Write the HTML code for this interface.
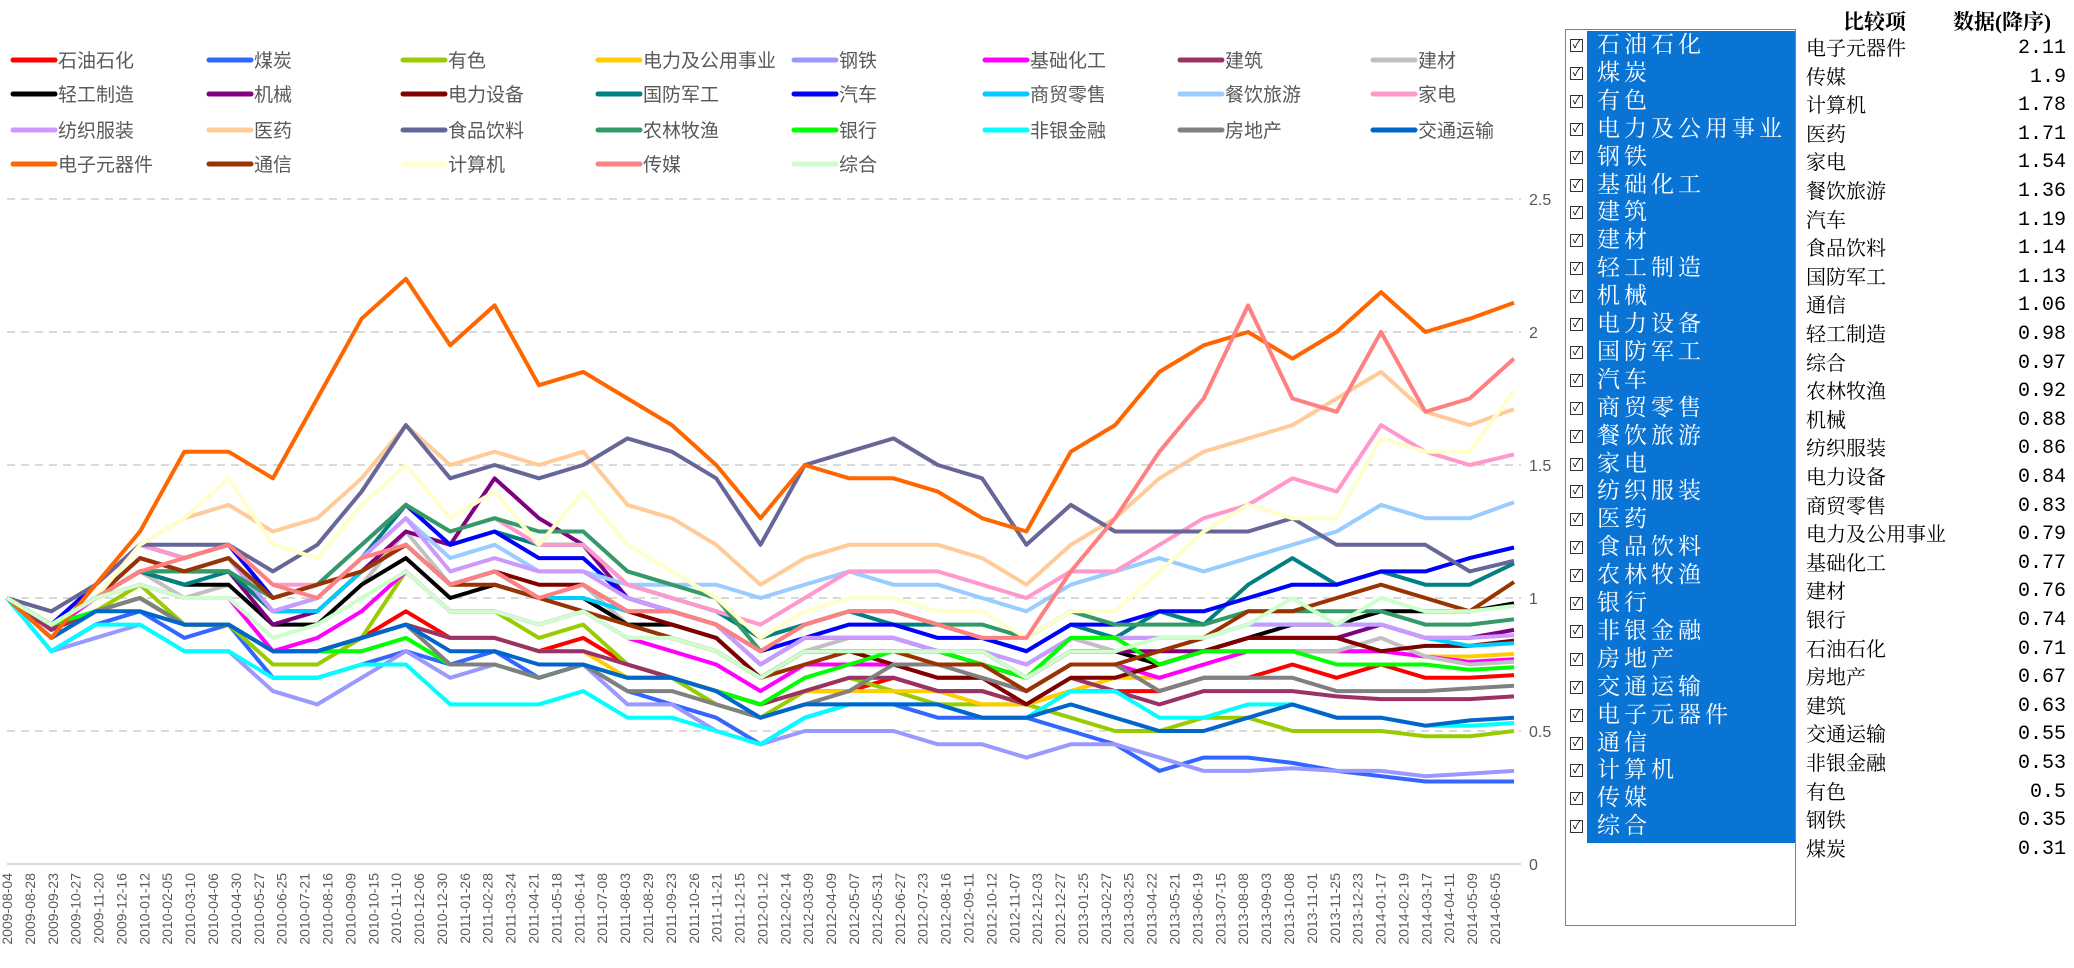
<!DOCTYPE html>
<html><head><meta charset="utf-8">
<style>
html,body{margin:0;padding:0;background:#fff;}
body{width:2074px;height:968px;position:relative;overflow:hidden;font-family:"Liberation Sans","Noto Sans CJK SC",sans-serif;}
#chart{position:absolute;left:0;top:0;}
#panel{position:absolute;left:1565px;top:29px;width:231px;height:897px;border:1px solid #808080;box-sizing:border-box;background:#fff;}
#blue{position:absolute;left:21px;top:1px;width:208px;height:812px;background:#0a74d4;}
.item{position:absolute;left:0;height:28px;width:229px;}
.cb{position:absolute;left:4px;top:8px;width:11px;height:11px;border:1px solid #333;background:#fff;font-size:11px;line-height:11px;text-align:center;color:#000;}
.lbl{position:absolute;left:31px;top:0;font-size:23px;line-height:28px;color:#fff;letter-spacing:4px;font-family:"Liberation Serif","Noto Serif CJK SC",serif;white-space:nowrap;}
#table{position:absolute;left:1800px;top:0;width:274px;height:968px;font-family:"Liberation Serif","Noto Serif CJK SC",serif;}
.th{position:absolute;top:6px;font-size:21px;font-weight:bold;color:#000;}
.row{position:absolute;left:6px;width:260px;height:28px;font-size:20px;line-height:28px;color:#000;}
.row .v{position:absolute;right:0;top:0;font-family:"Liberation Mono",monospace;}
</style></head>
<body>
<svg id="chart" width="1560" height="968" xmlns="http://www.w3.org/2000/svg"></svg>
<div id="panel"><div id="blue"></div></div>
<div id="table">
<div class="th" style="left:43px">比较项</div>
<div class="th" style="left:153px">数据(降序)</div>
</div>
<script>
const names=["石油石化","煤炭","有色","电力及公用事业","钢铁","基础化工","建筑","建材","轻工制造","机械","电力设备","国防军工","汽车","商贸零售","餐饮旅游","家电","纺织服装","医药","食品饮料","农林牧渔","银行","非银金融","房地产","交通运输","电子元器件","通信","计算机","传媒","综合"];
const colors=["#ff0000","#3366ff","#99cc00","#ffcc00","#9999ff","#ff00ff","#993366","#c0c0c0","#000000","#800080","#800000","#008080","#0000ff","#00ccff","#99ccff","#ff99cc","#cc99ff","#ffcc99","#666699","#339966","#00ff00","#00ffff","#808080","#0066cc","#ff6600","#993300","#ffffcc","#ff8080","#ccffcc"];
const dates=["2009-08-04","2009-08-28","2009-09-23","2009-10-27","2009-11-20","2009-12-16","2010-01-12","2010-02-05","2010-03-10","2010-04-06","2010-04-30","2010-05-27","2010-06-25","2010-07-21","2010-08-16","2010-09-09","2010-10-15","2010-11-10","2010-12-06","2010-12-30","2011-01-26","2011-02-28","2011-03-24","2011-04-21","2011-05-18","2011-06-14","2011-07-08","2011-08-03","2011-08-29","2011-09-23","2011-10-26","2011-11-21","2011-12-15","2012-01-12","2012-02-14","2012-03-09","2012-04-09","2012-05-07","2012-05-31","2012-06-27","2012-07-23","2012-08-16","2012-09-11","2012-10-12","2012-11-07","2012-12-03","2012-12-27","2013-01-25","2013-02-27","2013-03-25","2013-04-22","2013-05-21","2013-06-19","2013-07-15","2013-08-08","2013-09-03","2013-10-08","2013-11-01","2013-11-25","2013-12-23","2014-01-17","2014-02-19","2014-03-17","2014-04-11","2014-05-09","2014-06-05"];
const yTicks=[0,0.5,1,1.5,2,2.5];
const s_shiyou=[1.0,0.85,0.95,1.0,0.9,0.9,0.8,0.8,0.85,0.95,0.85,0.85,0.8,0.85,0.75,0.7,0.65,0.6,0.65,0.65,0.7,0.65,0.65,0.6,0.65,0.65,0.65,0.7,0.7,0.75,0.7,0.75,0.7,0.7,0.71];
const s_meitan=[1.0,0.8,0.9,0.95,0.85,0.9,0.7,0.7,0.75,0.8,0.75,0.8,0.7,0.75,0.65,0.6,0.55,0.45,0.55,0.6,0.6,0.55,0.55,0.55,0.5,0.45,0.35,0.4,0.4,0.38,0.35,0.33,0.31,0.31,0.31];
const s_youse=[1.0,0.85,0.95,1.05,0.9,0.9,0.75,0.75,0.85,1.1,0.95,0.95,0.85,0.9,0.75,0.7,0.6,0.55,0.65,0.7,0.65,0.6,0.6,0.6,0.55,0.5,0.5,0.55,0.55,0.5,0.5,0.5,0.48,0.48,0.5];
const s_dianli=[1.0,0.88,0.95,1.0,0.9,0.9,0.8,0.8,0.85,0.9,0.85,0.85,0.8,0.8,0.7,0.7,0.65,0.6,0.65,0.65,0.65,0.65,0.6,0.6,0.65,0.7,0.7,0.75,0.8,0.8,0.8,0.8,0.78,0.78,0.79];
const s_gangtie=[1.0,0.8,0.85,0.9,0.8,0.8,0.65,0.6,0.7,0.8,0.7,0.75,0.7,0.75,0.6,0.6,0.5,0.45,0.5,0.5,0.5,0.45,0.45,0.4,0.45,0.45,0.4,0.35,0.35,0.36,0.35,0.35,0.33,0.34,0.35];
const s_huagong=[1.0,0.88,1.0,1.05,1.0,1.0,0.8,0.85,0.95,1.1,0.95,0.95,0.9,0.95,0.85,0.8,0.75,0.65,0.75,0.75,0.75,0.7,0.7,0.65,0.75,0.75,0.7,0.75,0.8,0.8,0.8,0.8,0.78,0.76,0.77];
const s_jianzhu=[1.0,0.88,0.95,1.0,0.9,0.9,0.8,0.8,0.85,0.9,0.85,0.85,0.8,0.8,0.75,0.7,0.65,0.6,0.65,0.7,0.7,0.65,0.65,0.6,0.7,0.65,0.6,0.65,0.65,0.65,0.63,0.62,0.62,0.62,0.63];
const s_jiancai=[1.0,0.9,1.0,1.1,1.0,1.05,0.9,0.9,1.05,1.25,1.05,1.1,1.0,1.05,0.9,0.85,0.8,0.7,0.8,0.85,0.85,0.8,0.75,0.7,0.85,0.8,0.75,0.8,0.8,0.8,0.8,0.85,0.78,0.75,0.76];
const s_qinggong=[1.0,0.9,1.0,1.1,1.05,1.05,0.9,0.9,1.05,1.15,1.0,1.05,1.0,1.0,0.9,0.9,0.85,0.7,0.8,0.8,0.8,0.8,0.75,0.7,0.8,0.8,0.75,0.8,0.85,0.9,0.9,0.95,0.95,0.95,0.98];
const s_jixie=[1.0,0.9,1.0,1.15,1.1,1.1,0.9,0.95,1.1,1.25,1.2,1.45,1.3,1.2,1.0,0.95,0.9,0.75,0.85,0.85,0.85,0.8,0.8,0.7,0.8,0.8,0.8,0.8,0.85,0.85,0.85,0.9,0.85,0.85,0.88];
const s_dianshe=[1.0,0.9,1.0,1.1,1.1,1.1,0.95,0.95,1.1,1.2,1.05,1.1,1.05,1.05,0.95,0.9,0.85,0.7,0.8,0.8,0.75,0.7,0.7,0.6,0.7,0.7,0.75,0.8,0.85,0.85,0.85,0.8,0.82,0.82,0.84];
const s_guofang=[1.0,0.9,1.0,1.1,1.05,1.1,0.95,1.0,1.15,1.35,1.2,1.25,1.2,1.2,1.05,1.0,0.95,0.85,0.9,0.95,0.9,0.9,0.85,0.8,0.9,0.85,0.95,0.9,1.05,1.15,1.05,1.1,1.05,1.05,1.13];
const s_qiche=[1.0,0.9,1.05,1.2,1.15,1.2,1.0,1.05,1.2,1.35,1.2,1.25,1.15,1.15,1.0,0.95,0.9,0.8,0.85,0.9,0.9,0.85,0.85,0.8,0.9,0.9,0.95,0.95,1.0,1.05,1.05,1.1,1.1,1.15,1.19];
const s_shangmao=[1.0,0.9,1.0,1.1,1.1,1.15,0.95,0.95,1.1,1.2,1.05,1.1,1.0,1.0,0.95,0.95,0.9,0.75,0.85,0.85,0.85,0.8,0.8,0.75,0.85,0.85,0.85,0.85,0.9,0.9,0.9,0.9,0.85,0.82,0.83];
const s_canyin=[1.0,0.9,1.0,1.1,1.1,1.15,0.95,1.0,1.15,1.3,1.15,1.2,1.1,1.1,1.05,1.05,1.05,1.0,1.05,1.1,1.05,1.05,1.0,0.95,1.05,1.1,1.15,1.1,1.15,1.2,1.25,1.35,1.3,1.3,1.36];
const s_jiadian=[1.0,0.95,1.05,1.2,1.15,1.2,1.05,1.05,1.2,1.35,1.25,1.3,1.2,1.2,1.05,1.0,0.95,0.9,1.0,1.1,1.1,1.1,1.05,1.0,1.1,1.1,1.2,1.3,1.35,1.45,1.4,1.65,1.55,1.5,1.54];
const s_fangzhi=[1.0,0.9,1.0,1.1,1.1,1.15,0.95,1.0,1.15,1.3,1.1,1.15,1.1,1.1,1.0,0.95,0.9,0.75,0.85,0.85,0.85,0.8,0.8,0.75,0.85,0.85,0.85,0.85,0.9,0.9,0.9,0.9,0.85,0.85,0.86];
const s_yiyao=[1.0,0.95,1.05,1.2,1.3,1.35,1.25,1.3,1.45,1.65,1.5,1.55,1.5,1.55,1.35,1.3,1.2,1.05,1.15,1.2,1.2,1.2,1.15,1.05,1.2,1.3,1.45,1.55,1.6,1.65,1.75,1.85,1.7,1.65,1.71];
const s_shipin=[1.0,0.95,1.05,1.2,1.2,1.2,1.1,1.2,1.4,1.65,1.45,1.5,1.45,1.5,1.6,1.55,1.45,1.2,1.5,1.55,1.6,1.5,1.45,1.2,1.35,1.25,1.25,1.25,1.25,1.3,1.2,1.2,1.2,1.1,1.14];
const s_nonglin=[1.0,0.9,1.0,1.1,1.1,1.1,1.0,1.05,1.2,1.35,1.25,1.3,1.25,1.25,1.1,1.05,1.0,0.8,0.9,0.95,0.95,0.9,0.9,0.85,0.95,0.9,0.9,0.9,0.95,0.95,0.95,0.95,0.9,0.9,0.92];
const s_yinhang=[1.0,0.9,0.95,1.0,0.9,0.9,0.8,0.8,0.8,0.85,0.75,0.75,0.7,0.75,0.7,0.7,0.65,0.6,0.7,0.75,0.8,0.8,0.75,0.7,0.85,0.85,0.75,0.8,0.8,0.8,0.75,0.75,0.75,0.73,0.74];
const s_feiyin=[1.0,0.8,0.9,0.9,0.8,0.8,0.7,0.7,0.75,0.75,0.6,0.6,0.6,0.65,0.55,0.55,0.5,0.45,0.55,0.6,0.6,0.6,0.55,0.55,0.65,0.65,0.55,0.55,0.6,0.6,0.55,0.55,0.52,0.52,0.53];
const s_fangdichan=[1.0,0.85,0.95,1.0,0.9,0.9,0.8,0.8,0.85,0.9,0.75,0.75,0.7,0.75,0.65,0.65,0.6,0.55,0.6,0.65,0.75,0.75,0.7,0.65,0.75,0.75,0.65,0.7,0.7,0.7,0.65,0.65,0.65,0.66,0.67];
const s_jiaotong=[1.0,0.85,0.95,0.95,0.9,0.9,0.8,0.8,0.85,0.9,0.8,0.8,0.75,0.75,0.7,0.7,0.65,0.55,0.6,0.6,0.6,0.6,0.55,0.55,0.6,0.55,0.5,0.5,0.55,0.6,0.55,0.55,0.52,0.54,0.55];
const s_dianzi=[1.0,0.85,1.05,1.25,1.55,1.55,1.45,1.75,2.05,2.2,1.95,2.1,1.8,1.85,1.75,1.65,1.5,1.3,1.5,1.45,1.45,1.4,1.3,1.25,1.55,1.65,1.85,1.95,2.0,1.9,2.0,2.15,2.0,2.05,2.11];
const s_tongxin=[1.0,0.9,1.0,1.15,1.1,1.15,1.0,1.05,1.1,1.2,1.05,1.05,1.0,0.95,0.9,0.85,0.8,0.7,0.75,0.8,0.8,0.75,0.75,0.65,0.75,0.75,0.8,0.85,0.95,0.95,1.0,1.05,1.0,0.95,1.06];
const s_jisuanji=[1.0,0.9,1.0,1.2,1.3,1.45,1.2,1.15,1.35,1.5,1.3,1.4,1.2,1.4,1.2,1.1,1.0,0.85,0.95,1.0,1.0,0.95,0.95,0.85,0.95,0.95,1.1,1.25,1.35,1.3,1.3,1.6,1.55,1.55,1.78];
const s_chuanmei=[1.0,0.9,1.0,1.1,1.15,1.2,1.05,1.0,1.15,1.2,1.05,1.1,1.0,1.05,0.95,0.95,0.9,0.8,0.9,0.95,0.95,0.9,0.85,0.85,1.1,1.3,1.55,1.75,2.1,1.75,1.7,2.0,1.7,1.75,1.9];
const s_zonghe=[1.0,0.9,1.0,1.05,1.0,1.0,0.85,0.9,1.0,1.1,0.95,0.95,0.9,0.95,0.85,0.85,0.8,0.7,0.8,0.8,0.8,0.8,0.8,0.7,0.8,0.8,0.85,0.85,0.9,1.0,0.9,1.0,0.95,0.95,0.97];
const series=[s_shiyou,s_meitan,s_youse,s_dianli,s_gangtie,s_huagong,s_jianzhu,s_jiancai,s_qinggong,s_jixie,s_dianshe,s_guofang,s_qiche,s_shangmao,s_canyin,s_jiadian,s_fangzhi,s_yiyao,s_shipin,s_nonglin,s_yinhang,s_feiyin,s_fangdichan,s_jiaotong,s_dianzi,s_tongxin,s_jisuanji,s_chuanmei,s_zonghe];
const rankNames=["电子元器件","传媒","计算机","医药","家电","餐饮旅游","汽车","食品饮料","国防军工","通信","轻工制造","综合","农林牧渔","机械","纺织服装","电力设备","商贸零售","电力及公用事业","基础化工","建材","银行","石油石化","房地产","建筑","交通运输","非银金融","有色","钢铁","煤炭"];
const rankValues=["2.11","1.9","1.78","1.71","1.54","1.36","1.19","1.14","1.13","1.06","0.98","0.97","0.92","0.88","0.86","0.84","0.83","0.79","0.77","0.76","0.74","0.71","0.67","0.63","0.55","0.53","0.5","0.35","0.31"];

const NS="http://www.w3.org/2000/svg";
const svg=document.getElementById('chart');
const X0=7,X1=1514,Y0=864,PER=266;
function yScale(v){return Y0-v*PER;}
function xScale(i,n){return X0+(X1-X0)*i/(n-1);}
function tickX(i){return X0+i*(1495-X0)/(dates.length-1);}
function mk(tag,attrs){const e=document.createElementNS(NS,tag);for(const k in attrs)e.setAttribute(k,attrs[k]);return e;}

yTicks.forEach(t=>{
  const y=yScale(t);
  const l=mk('line',{x1:7,x2:1521,y1:y,y2:y,stroke:'#d9d9d9','stroke-width':2});
  if(t!==0)l.setAttribute('stroke-dasharray','8,6');
  
  
  svg.appendChild(l);
  const tx=mk('text',{x:1529,y:y+6,'font-size':16,fill:'#595959'});
  
  
  tx.textContent=String(t);
  svg.appendChild(tx);
});
dates.forEach((d,i)=>{
  const x=tickX(i)+5;
  const tx=mk('text',{x:x,y:873,'font-size':14,fill:'#595959','text-anchor':'end',transform:'rotate(-90 '+x+' 873)'});
  
  
  tx.textContent=d;
  svg.appendChild(tx);
});
series.forEach((vals,si)=>{
  const pts=vals.map((v,i)=>xScale(i,vals.length).toFixed(1)+','+yScale(v).toFixed(1)).join(' ');
  const p=mk('polyline',{points:pts,fill:'none',stroke:colors[si],'stroke-width':4,'stroke-linejoin':'round'});
  
  
  svg.appendChild(p);
});
const legX=[13,209,403,598,794,985,1180,1373],legY=[60,94,130,164];
names.forEach((n,i)=>{
  const x=legX[i%8],y=legY[Math.floor(i/8)];
  const g=mk('g',{});
  
  
  g.appendChild(mk('line',{x1:x,x2:x+42,y1:y,y2:y,stroke:colors[i],'stroke-width':5,'stroke-linecap':'round'}));
  const t=mk('text',{x:x+45,y:y+7,'font-size':19,fill:'#595959','font-family':'"Liberation Sans","Noto Sans CJK SC",sans-serif'});
  t.textContent=n;
  g.appendChild(t);
  svg.appendChild(g);
});
const panel=document.getElementById('panel');
names.forEach((n,i)=>{
  const d=document.createElement('div');
  d.className='item';
  d.style.top=(1+i*27.9)+'px';
  
  
  d.innerHTML='<div class="cb">✓</div><div class="lbl">'+n+'</div>';
  panel.appendChild(d);
});
const table=document.getElementById('table');
rankNames.forEach((n,i)=>{
  const r=document.createElement('div');
  r.className='row';
  r.style.top=(35+i*28.6)+'px';
  
  
  r.innerHTML='<span>'+n+'</span><span class="v">'+rankValues[i]+'</span>';
  table.appendChild(r);
});
</script>
</body></html>
